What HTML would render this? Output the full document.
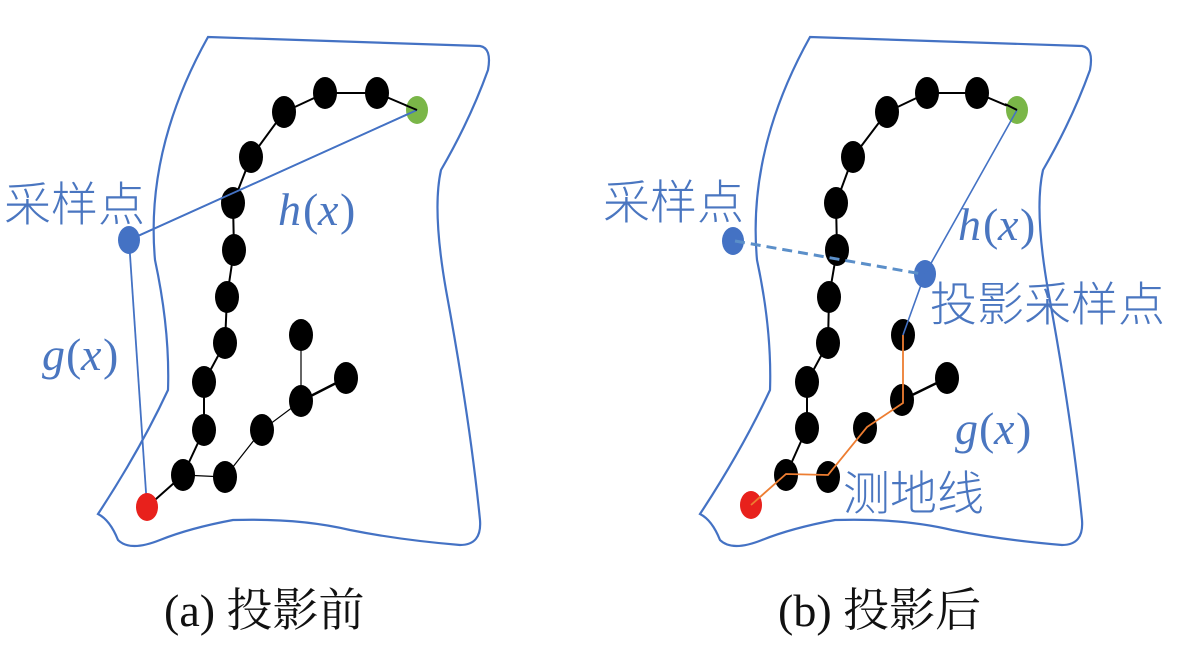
<!DOCTYPE html>
<html><head><meta charset="utf-8"><style>
body{margin:0;background:#fff;}
svg{display:block}
.cn{font-family:"Noto Sans CJK SC",sans-serif;font-weight:300;fill:#4a76c0;font-size:47px}
.it{font-family:"Liberation Serif",serif;font-style:italic;fill:#4a76c0;font-size:46px}
.cap{font-family:"Liberation Serif","Noto Serif CJK SC",serif;fill:#111;font-size:46px}
</style></head><body>
<svg width="1177" height="656" viewBox="0 0 1177 656" xmlns="http://www.w3.org/2000/svg">
<defs>
<path id="ol" d="M208,37 L480,46 Q492,48 488,70 Q470,120 441,170 Q432,210 446,290 Q470,420 480,520 Q482,545 460,545 Q400,540 350,530 Q300,518 233,520 Q190,528 160,540 Q130,552 118,540 Q110,520 98,514 Q140,450 168,390 Q170,330 155,260 Q145,150 208,37 Z" fill="none" stroke="#4472c4" stroke-width="2.2"/>
</defs>
<use href="#ol"/>
<use href="#ol" transform="translate(602,0)"/>
<!-- left panel -->
<g stroke="#000" stroke-width="2" fill="none">
<polyline points="417,110 377,93 325,93 284,112 251,157 233,203 234,250 227,297 225,343 204,382 204,430 183,475 147,507"/>
<polyline points="183,475 225,477 262,430 301,401 346,378" stroke-width="1.2"/>
<line x1="301" y1="401" x2="301" y2="335" stroke-width="1.2"/>
<line x1="301" y1="401" x2="346" y2="378" stroke-width="2.5"/>
</g>
<g stroke="#4472c4" stroke-width="1.8" fill="none">
<line x1="129" y1="240" x2="417" y2="110"/>
<line x1="129" y1="240" x2="147" y2="507"/>
</g>
<g fill="#000">
<ellipse cx="377" cy="93" rx="12" ry="16"/><ellipse cx="325" cy="93" rx="12" ry="16"/><ellipse cx="284" cy="112" rx="12" ry="16"/><ellipse cx="251" cy="157" rx="12" ry="16"/><ellipse cx="233" cy="203" rx="12" ry="16"/><ellipse cx="234" cy="250" rx="12" ry="16"/><ellipse cx="227" cy="297" rx="12" ry="16"/><ellipse cx="225" cy="343" rx="12" ry="16"/><ellipse cx="204" cy="382" rx="12" ry="16"/><ellipse cx="204" cy="430" rx="12" ry="16"/><ellipse cx="183" cy="475" rx="12" ry="16"/><ellipse cx="225" cy="477" rx="12" ry="16"/><ellipse cx="262" cy="430" rx="12" ry="16"/><ellipse cx="301" cy="401" rx="12" ry="16"/><ellipse cx="346" cy="378" rx="12" ry="16"/><ellipse cx="301" cy="335" rx="12" ry="16"/>
</g>
<ellipse cx="417" cy="110" rx="11" ry="14" fill="#7ab648"/>
<ellipse cx="147" cy="507" rx="11" ry="14" fill="#e8211c"/>
<ellipse cx="129" cy="240" rx="11" ry="14" fill="#4472c4"/>
<line x1="129" y1="240" x2="417" y2="110" stroke="#4472c4" stroke-width="1.8"/>
<line x1="417" y1="110" x2="405" y2="105" stroke="#000" stroke-width="2"/>
<text class="cn" x="4" y="221">采样点</text>
<text class="it" x="278" y="225">h</text><text class="it" x="303" y="225" style="font-style:normal">(</text><text class="it" x="318" y="225">x</text><text class="it" x="340" y="225" style="font-style:normal">)</text>
<text class="it" x="42" y="370">g</text><text class="it" x="66" y="370" style="font-style:normal">(</text><text class="it" x="81" y="370">x</text><text class="it" x="103" y="370" style="font-style:normal">)</text>
<text class="cap" x="164" y="626">(a) 投影前</text>
<!-- right panel -->
<g stroke="#000" stroke-width="2" fill="none">
<polyline points="1017,110 977,93 927,93 887,112 853,157 836,203 837,250 829,297 828,343 807,382 807,428 786,475"/>
<line x1="902" y1="400" x2="947" y2="378" stroke-width="2.5"/>
</g>
<g fill="#000">
<ellipse cx="977" cy="93" rx="12" ry="16"/><ellipse cx="927" cy="93" rx="12" ry="16"/><ellipse cx="887" cy="112" rx="12" ry="16"/><ellipse cx="853" cy="157" rx="12" ry="16"/><ellipse cx="836" cy="203" rx="12" ry="16"/><ellipse cx="837" cy="250" rx="12" ry="16"/><ellipse cx="829" cy="297" rx="12" ry="16"/><ellipse cx="828" cy="343" rx="12" ry="16"/><ellipse cx="807" cy="382" rx="12" ry="16"/><ellipse cx="807" cy="428" rx="12" ry="16"/><ellipse cx="786" cy="475" rx="12" ry="16"/><ellipse cx="828" cy="477" rx="12" ry="16"/><ellipse cx="865" cy="428" rx="12" ry="16"/><ellipse cx="902" cy="400" rx="12" ry="16"/><ellipse cx="947" cy="378" rx="12" ry="16"/><ellipse cx="903" cy="335" rx="12" ry="16"/>
</g>
<ellipse cx="1017" cy="110" rx="11" ry="14" fill="#7ab648"/>
<ellipse cx="751" cy="505" rx="11" ry="14" fill="#e8211c"/>
<ellipse cx="733" cy="241" rx="11" ry="14" fill="#4472c4"/>
<ellipse cx="925" cy="274" rx="11" ry="14" fill="#4472c4"/>
<polyline points="751,505 786,474 828,475 867,427 903,403 903,335" fill="none" stroke="#ed7d31" stroke-width="1.8"/>
<polyline points="1017,110 925,274 903,335" fill="none" stroke="#4472c4" stroke-width="1.6"/>
<line x1="1017" y1="110" x2="1005" y2="104" stroke="#000" stroke-width="2"/>
<line x1="735" y1="241" x2="922" y2="274" stroke="#5b8fc9" stroke-width="3" stroke-dasharray="10,6"/>
<text class="cn" x="603" y="219">采样点</text>
<text class="it" x="958" y="240">h</text><text class="it" x="983" y="240" style="font-style:normal">(</text><text class="it" x="998" y="240">x</text><text class="it" x="1020" y="240" style="font-style:normal">)</text>
<text class="cn" x="930" y="321">投影采样点</text>
<text class="it" x="955" y="444">g</text><text class="it" x="979" y="444" style="font-style:normal">(</text><text class="it" x="994" y="444">x</text><text class="it" x="1016" y="444" style="font-style:normal">)</text>
<text class="cn" x="843" y="510">测地线</text>
<text class="cap" x="778" y="626">(b) 投影后</text>
</svg>
</body></html>
